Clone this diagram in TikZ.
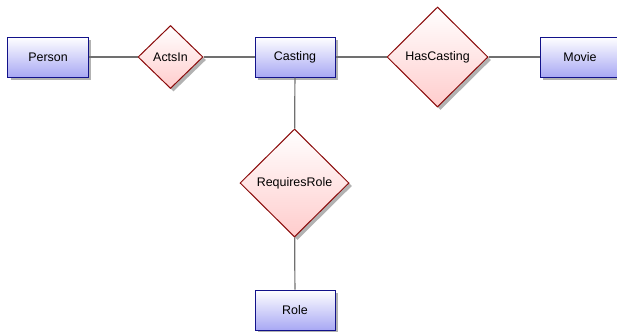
\documentclass[tikz,border=0pt]{standalone}
\usepackage{fontspec}
\setmainfont{Liberation Sans}
\usetikzlibrary{shapes.geometric,shadows}
\definecolor{boxbot}{HTML}{A8A8F4}
\definecolor{boxline}{HTML}{12128A}
\definecolor{diabot}{HTML}{FFCCCC}
\definecolor{dialine}{HTML}{8A0A0A}
\definecolor{conn}{HTML}{707070}
\tikzset{
  entity/.style={rectangle, draw=boxline, line width=1bp, minimum width=80bp, minimum height=40bp,
    inner sep=0pt, top color=white, bottom color=boxbot,
    drop shadow={shadow xshift=3bp, shadow yshift=-3bp, fill=black, opacity=0.3},
    font=\fontsize{12.5}{14}\selectfont},
  relation/.style={diamond, draw=dialine, line width=1bp, inner sep=0pt, aspect=1,
    top color=white, bottom color=diabot,
    drop shadow={shadow xshift=3bp, shadow yshift=-3bp, fill=black, opacity=0.3},
    font=\fontsize{12.5}{14}\selectfont},
  link/.style={draw=conn, line width=1.2bp}
}
\begin{document}
\begin{tikzpicture}[x=1bp,y=-1bp]
\useasboundingbox (0,0) rectangle (617,331);
\node[entity] (person) at (48,57) {Person};
\node[relation, minimum width=65bp, minimum height=63bp] (actsin) at (170.5,57) {ActsIn};
\node[entity] (casting) at (295,57) {Casting};
\node[relation, minimum width=101bp, minimum height=100bp] (hascasting) at (437.5,57) {HasCasting};
\node[entity] (movie) at (580,57) {Movie};
\node[relation, minimum width=109bp, minimum height=108bp] (requiresrole) at (294.5,183) {RequiresRole};
\node[entity] (role) at (295,310) {Role};
\draw[link] (person) -- (actsin);
\draw[link] (actsin) -- (casting);
\draw[link] (casting) -- (hascasting);
\draw[link] (hascasting) -- (movie);
\draw[link] (casting) -- (requiresrole);
\draw[link] (requiresrole) -- (role);
\end{tikzpicture}
\end{document}
